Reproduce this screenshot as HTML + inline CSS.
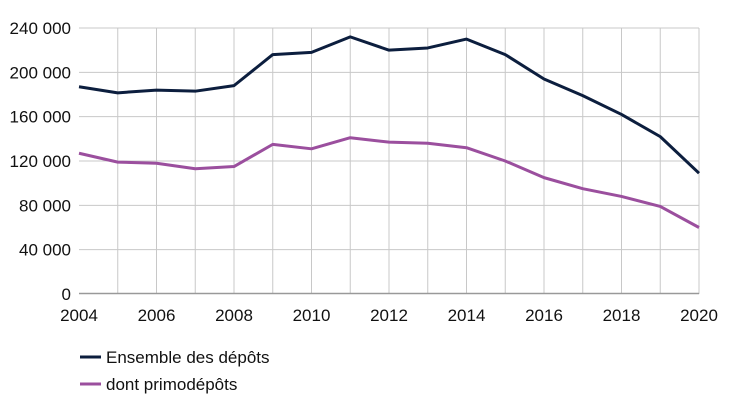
<!DOCTYPE html>
<html><head><meta charset="utf-8"><style>
body{margin:0;background:#fff;}
svg text{font-family:"Liberation Sans",sans-serif;font-size:17px;fill:#111;}
</style></head><body>
<svg width="730" height="410" viewBox="0 0 730 410" xmlns="http://www.w3.org/2000/svg">
<g id="grid" stroke="#c8c8c8" stroke-width="1"></g>
<line x1="79" y1="293.5" x2="699" y2="293.5" stroke="#999" stroke-width="1.5"/>
<g id="yl"></g><g id="xl"></g>
<polyline id="a" fill="none" stroke="#0c1e3e" stroke-width="3" stroke-linejoin="round"/>
<polyline id="b" fill="none" stroke="#9b4f9e" stroke-width="3" stroke-linejoin="round"/>
<line x1="80" y1="357" x2="101" y2="357" stroke="#0c1e3e" stroke-width="3"/>
<text x="106" y="363">Ensemble des dépôts</text>
<line x1="80" y1="384" x2="101" y2="384" stroke="#9b4f9e" stroke-width="3"/>
<text x="106" y="390">dont primodépôts</text>
</svg>
<script>
var ns="http://www.w3.org/2000/svg";
function X(i){return 79+i*38.75;}
function Y(v){return 294-v*266/240000;}
var g=document.getElementById('grid'),yl=document.getElementById('yl'),xl=document.getElementById('xl');
function el(t,a,p,txt){var e=document.createElementNS(ns,t);for(var k in a)e.setAttribute(k,a[k]);if(txt!==undefined)e.textContent=txt;p.appendChild(e);}
for(var v=40000;v<=240000;v+=40000){var y=Y(v);el('line',{x1:79,x2:699,y1:y,y2:y},g);}
for(var i=1;i<=16;i++){el('line',{x1:X(i),x2:X(i),y1:Y(240000),y2:294},g);}
var labs=["0","40 000","80 000","120 000","160 000","200 000","240 000"];
for(var j=0;j<7;j++)el('text',{x:71,y:Y(j*40000)+6,'text-anchor':'end'},yl,labs[j]);
for(var i=0;i<=16;i+=2)el('text',{x:X(i),y:321,'text-anchor':'middle'},xl,String(2004+i));
var A=[187,181.5,184,183,188,216,218,232,220,222,230,216,194,179,162,142,109];
var B=[127,119,118,113,115,135,131,141,137,136,132,120,105,95,88,79,60];
document.getElementById('a').setAttribute('points',A.map(function(v,i){return X(i)+','+Y(v*1000)}).join(' '));
document.getElementById('b').setAttribute('points',B.map(function(v,i){return X(i)+','+Y(v*1000)}).join(' '));
</script>
</body></html>
